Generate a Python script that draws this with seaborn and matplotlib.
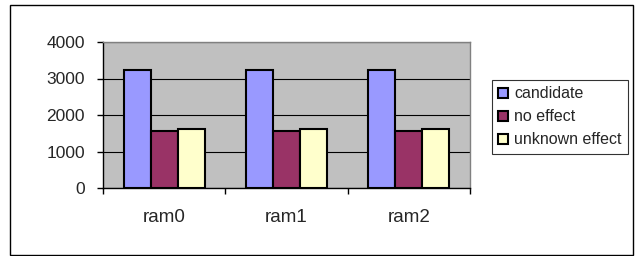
import pandas as pd
import numpy as np
import matplotlib
matplotlib.use('Agg')
import matplotlib.pyplot as plt
import seaborn as sns
from matplotlib.patches import Rectangle

# Chart values
categories = ['ram0', 'ram1', 'ram2']
series_names = ['candidate', 'no effect', 'unknown effect']
candidate = [3230, 3230, 3230]
no_effect = [1560, 1560, 1560]
unknown_effect = [1610, 1610, 1610]
colors = ['#9999FF', '#993366', '#FFFFCC']

data = pd.DataFrame({
    'Category': categories * 3,
    'Series': [series_names[0]] * 3 + [series_names[1]] * 3 + [series_names[2]] * 3,
    'Value': candidate + no_effect + unknown_effect,
})

sns.set_style('white')
plt.rcParams['font.family'] = ['Liberation Sans', 'DejaVu Sans']

fig = plt.figure(figsize=(6.35, 2.56), dpi=100)
ax = fig.add_axes([103 / 635, 68 / 256, 367 / 635, 146 / 256])

sns.barplot(data=data, x='Category', y='Value', hue='Series', palette=colors, saturation=1,
            width=0.66, gap=0, edgecolor='black', linewidth=1.5, ax=ax)

ax.set_facecolor('#C0C0C0')
ax.set_ylim(0, 4000)
ax.set_xlim(-0.5, 2.5)
ax.set_yticks([0, 1000, 2000, 3000, 4000])
ax.yaxis.grid(True, color='black', linewidth=0.8)
ax.set_axisbelow(True)
ax.set_xlabel('')
ax.set_ylabel('')

# category separators as tick marks
ax.set_xticks([-0.5, 0.5, 1.5, 2.5], minor=True)
ax.tick_params(axis='x', which='minor', length=4, width=1, direction='out', color='black', bottom=True)
ax.tick_params(axis='x', which='major', length=0, pad=15, labelsize=13.5)
ax.tick_params(axis='y', length=4, width=1, direction='out', color='black', left=True, labelsize=12.5, pad=9)

for side in ['left', 'bottom']:
    ax.spines[side].set_color('black')
    ax.spines[side].set_linewidth(1)
for side in ['top', 'right']:
    ax.spines[side].set_color('#808080')
    ax.spines[side].set_linewidth(1)

handles, labels = ax.get_legend_handles_labels()
ax.legend_.remove()
leg = fig.legend(handles, labels, loc='upper left', bbox_to_anchor=(492 / 635, 1 - 80 / 256),
                 fontsize=11.5, frameon=True, fancybox=False, edgecolor='black',
                 handlelength=0.6, handleheight=0.6, handletextpad=0.4,
                 borderpad=0.4, labelspacing=0.5, borderaxespad=0)
leg.get_frame().set_linewidth(0.8)

# outer chart border
fig.patches.append(Rectangle((10 / 635, 1 / 256), 623 / 635, 250 / 256, transform=fig.transFigure,
                             fill=False, edgecolor='black', linewidth=1))

fig.savefig('out.png', dpi=100)
